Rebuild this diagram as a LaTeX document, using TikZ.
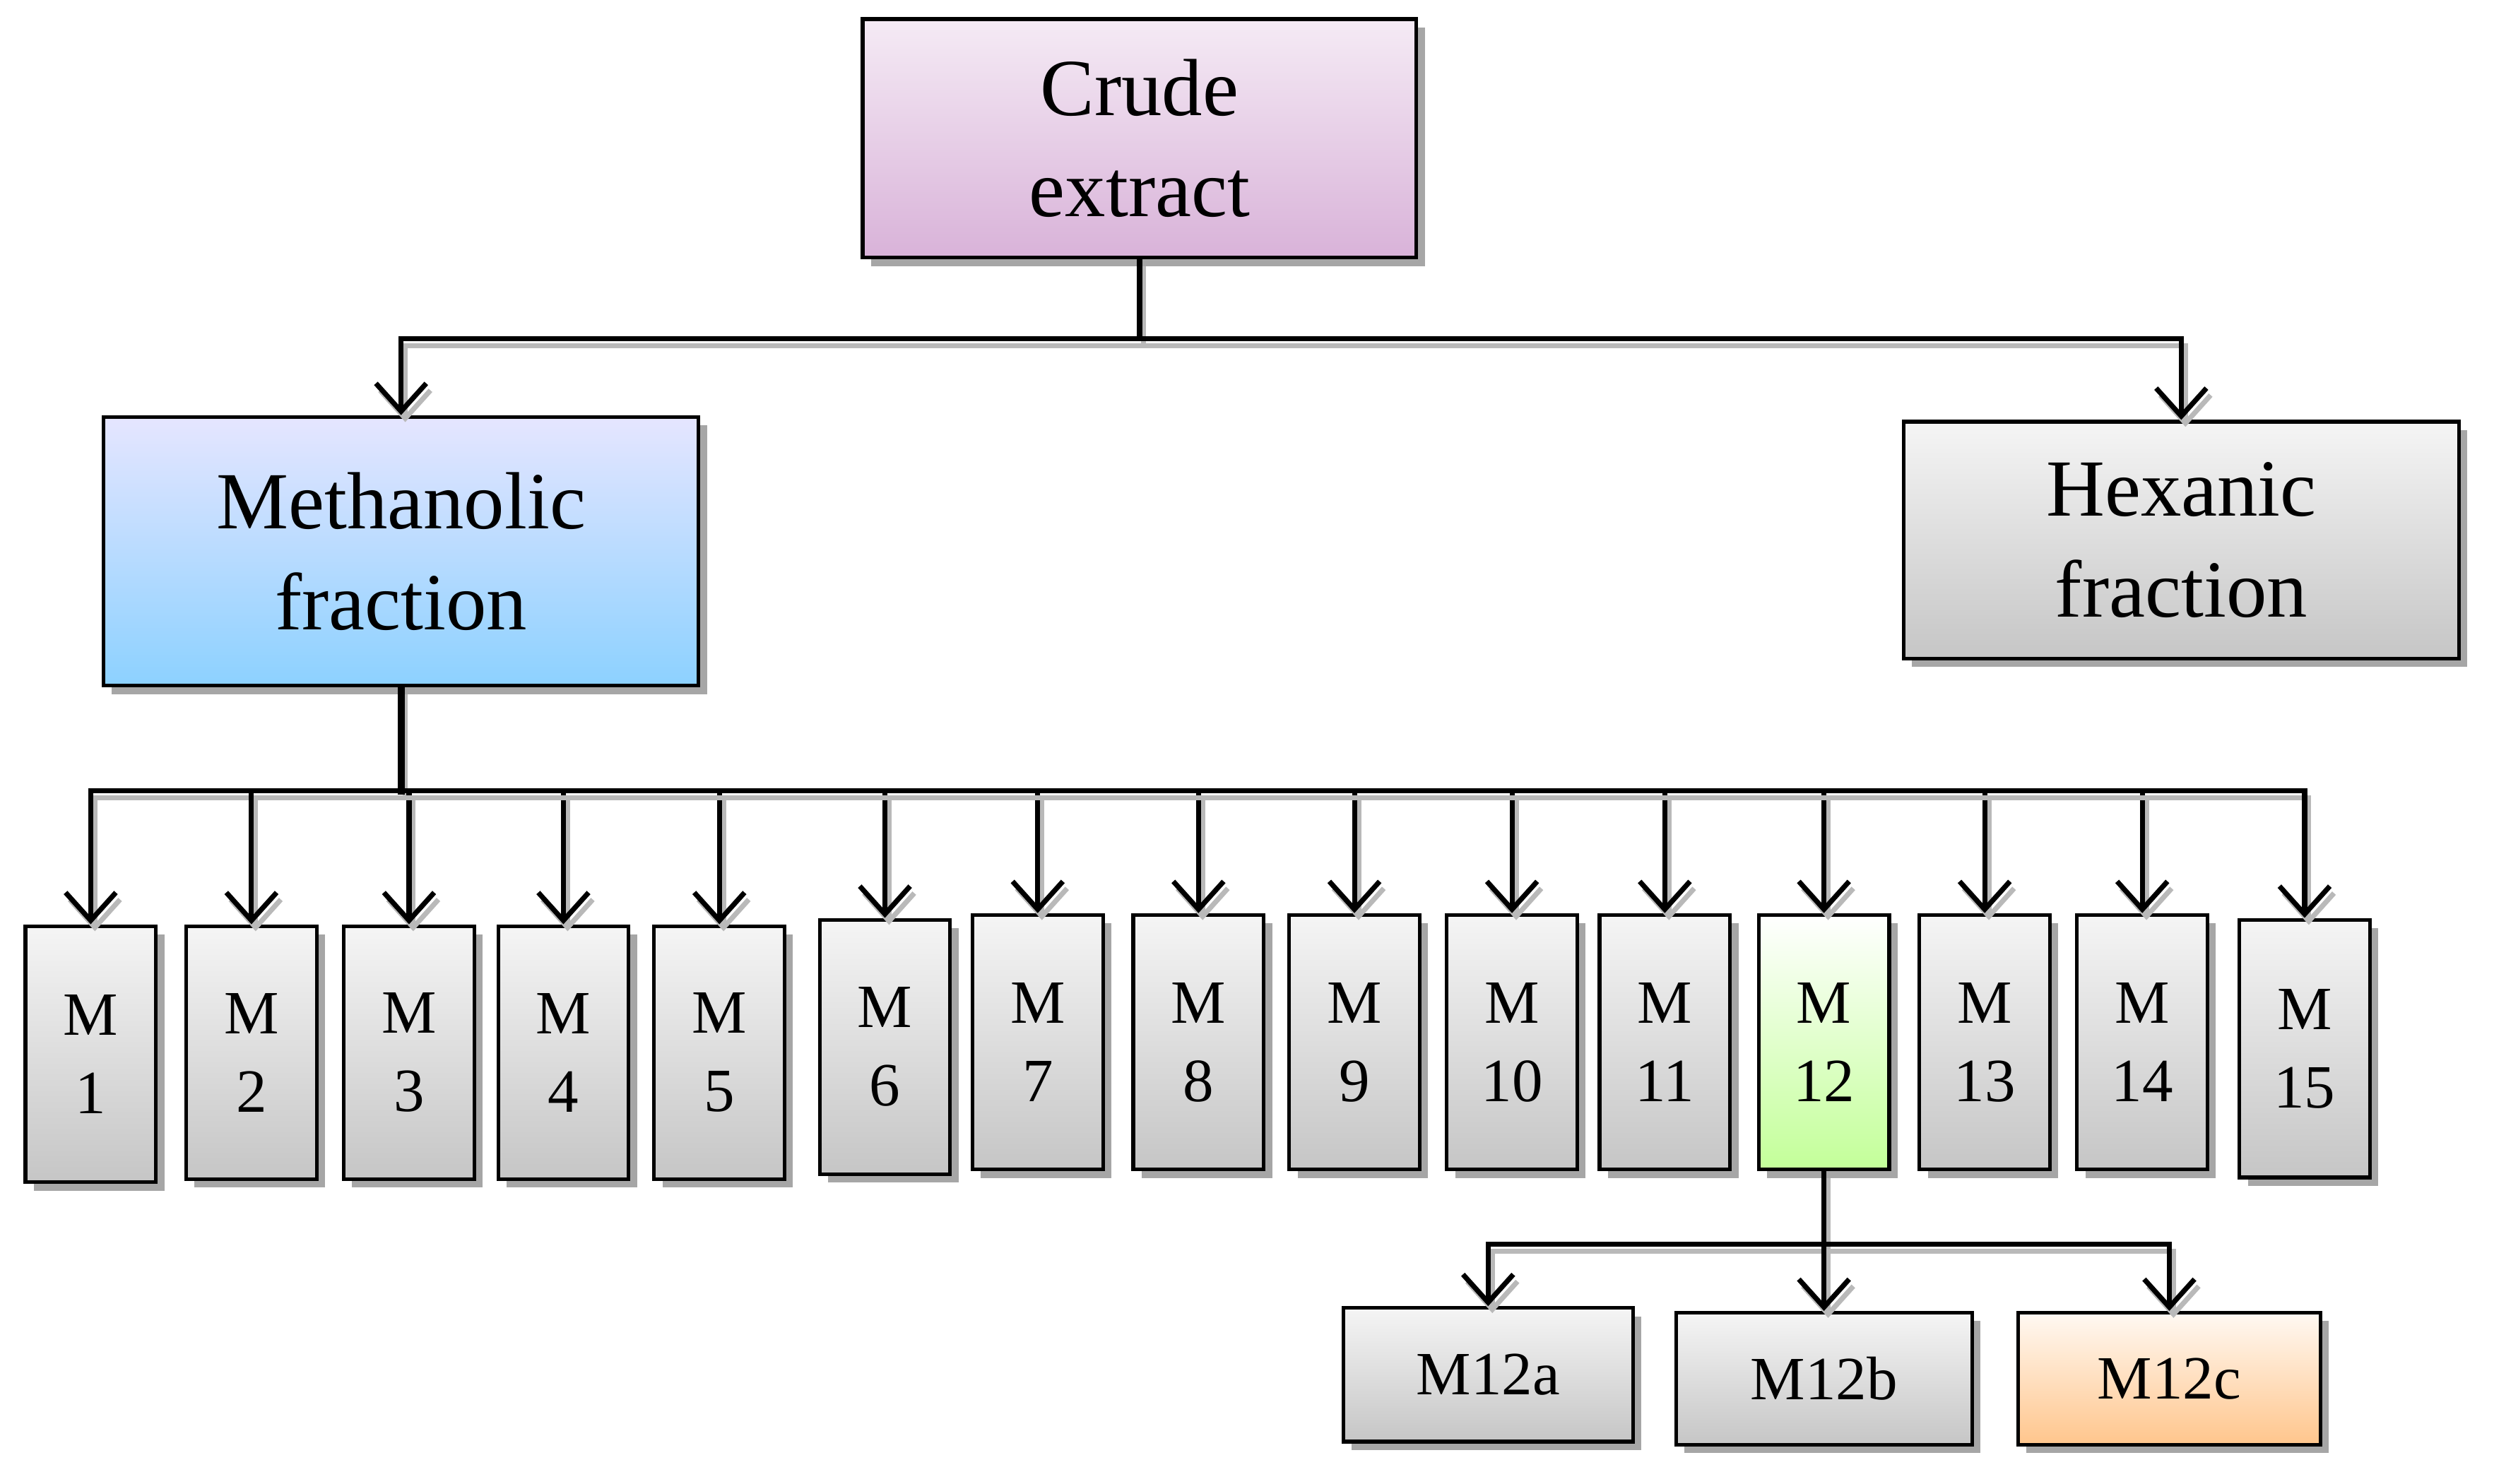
\documentclass[tikz,border=0pt]{standalone}
\usepackage{fontspec}
\setmainfont{Liberation Serif}
\usetikzlibrary{arrows.meta,shadows}
\begin{document}
\begin{tikzpicture}[x=0.02cm,y=-0.02cm,
  box/.style={draw=black,line width=1.3pt,inner sep=0pt,align=center,
    drop shadow={shadow xshift=3pt,shadow yshift=-3pt,fill=black,opacity=0.35}},
  gbox/.style={box,top color=gray!8,bottom color=gray!45},
  big/.style={font=\fontsize{29}{36}\selectfont},
  ml/.style={font=\fontsize{22}{28}\selectfont},
  con/.style={line width=1.8pt,line cap=rect,
    preaction={draw=gray!55,line width=1.8pt,transform canvas={xshift=1.5pt,yshift=-2.5pt}}},
  arr/.style={con,-{Straight Barb[length=10pt,width=18pt,line width=1.8pt]}}]
\useasboundingbox (0,0) rectangle (1567,932.6);
\node[box,big,top color=violet!8,bottom color=violet!30,minimum width=6.96cm,minimum height=3cm] (crude) at (716,87) {Crude\\extract};
\node[box,big,top color=blue!10,bottom color=blue!40!cyan!45,minimum width=7.48cm,minimum height=3.38cm] (meth) at (252,346.5) {Methanolic\\fraction};
\node[gbox,big,minimum width=6.98cm,minimum height=2.98cm] (hex) at (1370.5,339.5) {Hexanic\\fraction};
\coordinate (j1) at (716,213);
\draw[con] (crude.south) -- (j1);
\draw[arr] (j1) -| (meth.north);
\draw[arr] (j1) -| (hex.north);
\coordinate (j2) at (252,497);
\draw[con,line width=2.6pt] (meth.south) -- (j2);
\foreach \i/\x/\t/\b in {1/57/582/743,2/158/582/741,3/257/582/741,4/354/582/741,5/452/582/741,6/556/578/738,7/652/575/735,8/753/575/735,9/851/575/735,10/950/575/735,11/1046/575/735,12/1146/575/735,13/1247/575/735,14/1346/575/735,15/1448/578/740}{
  \pgfmathsetmacro\hh{(\b-\t)*0.02}
  \ifnum\i=12
    \node[box,ml,top color=white,bottom color=green!45!lime!40,minimum width=1.64cm,minimum height=\hh cm] (m\i) at (\x,{(\t+\b)/2}) {M\\\i};
  \else
    \node[gbox,ml,minimum width=1.64cm,minimum height=\hh cm] (m\i) at (\x,{(\t+\b)/2}) {M\\\i};
  \fi
  \draw[arr] (j2) -| (m\i.north);
}
\node[gbox,ml,minimum width=3.64cm,minimum height=1.68cm] (a) at (935,864) {M12a};
\node[gbox,ml,minimum width=3.72cm,minimum height=1.66cm] (b) at (1146,866.5) {M12b};
\node[box,ml,top color=orange!5,bottom color=orange!45,minimum width=3.8cm,minimum height=1.66cm] (c) at (1363,866.5) {M12c};
\coordinate (j3) at (1146,782);
\draw[con] (m12.south) -- (j3);
\draw[arr] (j3) -| (a.north);
\draw[arr] (j3) -- (b.north);
\draw[arr] (j3) -| (c.north);
\end{tikzpicture}
\end{document}
